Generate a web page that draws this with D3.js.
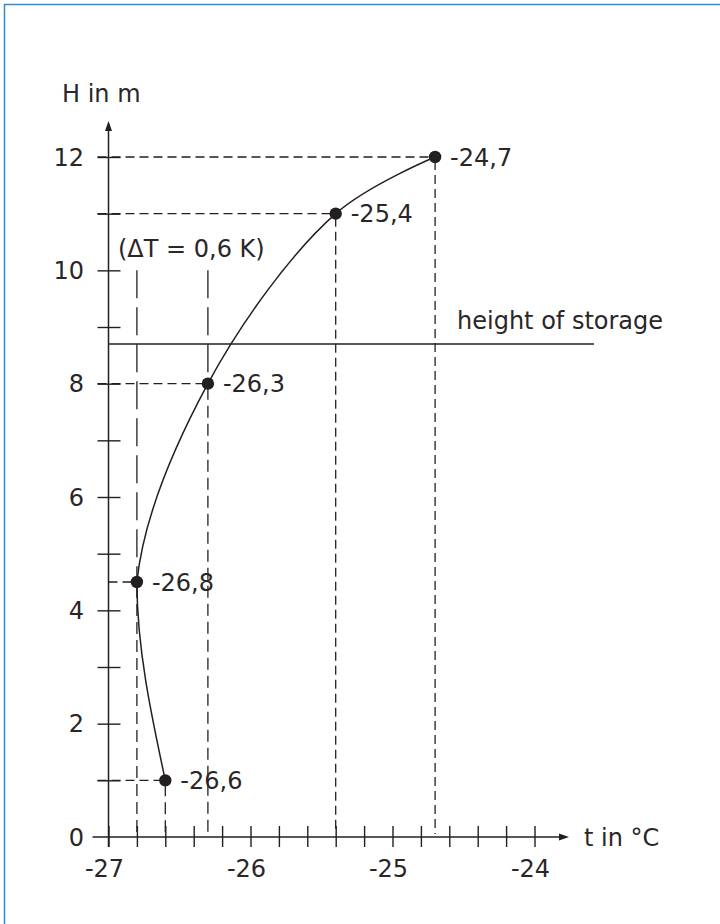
<!DOCTYPE html>
<html>
<head>
<meta charset="utf-8">
<script src="https://cdn.jsdelivr.net/npm/d3@7"></script>
<style>
    html, body { margin: 0; padding: 0; background: #fff; }
    text { font-family: 'DejaVu Sans', sans-serif; font-size: 24px; fill: #2a2627; }
</style>
</head>
<body>
<div id="chart"></div>
<script>
'use strict';

// measured points: temperature t (°C) at height H (m)
var temps = [-26.6, -26.8, -26.3, -25.4, -24.7],
    heights = [1, 4.5, 8, 11, 12],
    pointLabels = ['-26,6', '-26,8', '-26,3', '-25,4', '-24,7'];

var xTickLabels = [-27, -26, -25, -24],
    yTickLabels = [0, 2, 4, 6, 8, 10, 12];

var storageHeight = 8.7,
    deltaTemps = [-26.8, -26.3],
    deltaTop = 10;

var width = 720,
    height = 924,
    ink = '#231f20';

var x = d3.scaleLinear().domain([-27, -24]).range([108.5, 534.5]),
    y = d3.scaleLinear().domain([0, 12]).range([837, 157]);

var svg = d3.select('#chart')
    .append('svg')
    .attr('width', width)
    .attr('height', height);

// frame (only top and left edges visible)
svg.append('rect')
    .attr('x', 4.5).attr('y', 4.5)
    .attr('width', 730).attr('height', 930)
    .attr('fill', 'none')
    .attr('stroke', '#2b8cd3')
    .attr('stroke-width', 1.5);

var points = temps.map(function(t, i) {
    return { t: t, h: heights[i], label: pointLabels[i] };
});

// the coldest point splits the profile into a lower and an upper branch
var turn = points[d3.minIndex(points, function(d) { return d.t; })];

// dashed guides from every point to both axes
var guides = svg.append('g')
    .attr('stroke', ink)
    .attr('stroke-width', 1.3)
    .attr('fill', 'none');

guides.selectAll('line.h')
    .data(points)
    .enter().append('line')
    .attr('class', 'h')
    .attr('stroke-dasharray', '9,5')
    .attr('x1', function(d) { return d.h % 1 === 0 ? x(-27) - 11 : x(-27); })
    .attr('x2', function(d) { return x(d.t); })
    .attr('y1', function(d) { return y(d.h); })
    .attr('y2', function(d) { return y(d.h); });

guides.selectAll('line.v')
    .data(points)
    .enter().append('line')
    .attr('class', 'v')
    .attr('stroke-dasharray', function(d) { return d.t < -26 ? '12,6' : '9,5'; })
    .attr('x1', function(d) { return x(d.t); })
    .attr('x2', function(d) { return x(d.t); })
    .attr('y1', function(d) { return y(d.h) + 4; })
    .attr('y2', y(0) - 3);

// long dashes marking the delta T band
svg.append('g')
    .selectAll('line')
    .data(deltaTemps)
    .enter().append('line')
    .attr('x1', function(d) { return x(d); })
    .attr('x2', function(d) { return x(d); })
    .attr('y1', y(deltaTop))
    .attr('y2', function(d) {
        var p = points.filter(function(q) { return q.t === d; })[0];
        return y(p.h);
    })
    .attr('stroke', ink)
    .attr('stroke-width', 1.3)
    .attr('stroke-dasharray', '28,9');

svg.append('text')
    .attr('x', 118)
    .attr('y', 257)
    .text('(\u0394T = 0,6 K)');

// height of storage
svg.append('line')
    .attr('x1', x(-27)).attr('x2', 594)
    .attr('y1', y(storageHeight)).attr('y2', y(storageHeight))
    .attr('stroke', ink)
    .attr('stroke-width', 1.4);

svg.append('text')
    .attr('x', 457)
    .attr('y', 329)
    .text('height of storage');

// x axis
var xMinor = d3.range(0, 16).map(function(i) { return -27 + i * 0.2; });
var xAxis = svg.append('g')
    .attr('transform', 'translate(0,' + y(0) + ')')
    .call(d3.axisBottom(x).tickValues(xMinor).tickSize(10).tickFormat(''));
xAxis.select('.domain').remove();
xAxis.selectAll('.tick line')
    .attr('y1', -11)
    .attr('stroke', ink)
    .attr('stroke-width', 1.4);

svg.append('line')
    .attr('x1', x(-27) - 16).attr('x2', 566)
    .attr('y1', y(0)).attr('y2', y(0))
    .attr('stroke', ink)
    .attr('stroke-width', 1.5);
svg.append('path')
    .attr('d', 'M569,' + y(0) + 'l-10,-3.5v7z')
    .attr('fill', ink);

svg.append('g')
    .selectAll('text')
    .data(xTickLabels)
    .enter().append('text')
    .attr('x', function(d) { return x(d) - 4; })
    .attr('y', 877)
    .attr('text-anchor', 'middle')
    .text(function(d) { return d; });

svg.append('text')
    .attr('x', 584)
    .attr('y', 846)
    .text('t in \u00b0C');

// y axis
var yMinor = d3.range(1, 13);
var yAxis = svg.append('g')
    .attr('transform', 'translate(' + x(-27) + ',0)')
    .call(d3.axisLeft(y).tickValues(yMinor).tickSize(11).tickFormat(''));
yAxis.select('.domain').remove();
yAxis.selectAll('.tick line')
    .attr('x1', 12)
    .attr('stroke', ink)
    .attr('stroke-width', 1.4);

svg.append('line')
    .attr('x1', x(-27)).attr('x2', x(-27))
    .attr('y1', y(0) + 10).attr('y2', 124)
    .attr('stroke', ink)
    .attr('stroke-width', 1.5);
svg.append('path')
    .attr('d', 'M' + x(-27) + ',121l-3.5,10h7z')
    .attr('fill', ink);

svg.append('g')
    .selectAll('text')
    .data(yTickLabels)
    .enter().append('text')
    .attr('x', 84)
    .attr('y', function(d) { return y(d); })
    .attr('dy', '0.36em')
    .attr('text-anchor', 'end')
    .text(function(d) { return d; });

svg.append('text')
    .attr('x', 62)
    .attr('y', 102)
    .text('H in m');

// profile curve: smooth upper branch, monotone lower branch
var defs = svg.append('defs');
defs.append('clipPath').attr('id', 'clip-upper')
    .append('rect')
    .attr('x', 0).attr('y', 0)
    .attr('width', width).attr('height', y(turn.h));
defs.append('clipPath').attr('id', 'clip-lower')
    .append('rect')
    .attr('x', 0).attr('y', y(turn.h))
    .attr('width', width).attr('height', height - y(turn.h));

var upperLine = d3.line()
    .x(function(d) { return x(d.t); })
    .y(function(d) { return y(d.h); })
    .curve(d3.curveCatmullRom.alpha(0.5));

var lowerLine = d3.line()
    .x(function(d) { return x(d.t); })
    .y(function(d) { return y(d.h); })
    .curve(d3.curveMonotoneY);

svg.append('path')
    .datum(points)
    .attr('d', upperLine)
    .attr('clip-path', 'url(#clip-upper)')
    .attr('fill', 'none')
    .attr('stroke', ink)
    .attr('stroke-width', 1.5);

svg.append('path')
    .datum(points)
    .attr('d', lowerLine)
    .attr('clip-path', 'url(#clip-lower)')
    .attr('fill', 'none')
    .attr('stroke', ink)
    .attr('stroke-width', 1.5);

var dots = svg.append('g')
    .selectAll('g')
    .data(points)
    .enter().append('g')
    .attr('transform', function(d) { return 'translate(' + x(d.t) + ',' + y(d.h) + ')'; });

dots.append('circle')
    .attr('r', 6.2)
    .attr('fill', ink);

dots.append('text')
    .attr('x', 15)
    .attr('dy', '0.36em')
    .text(function(d) { return d.label; });
</script>
</body>
</html>
